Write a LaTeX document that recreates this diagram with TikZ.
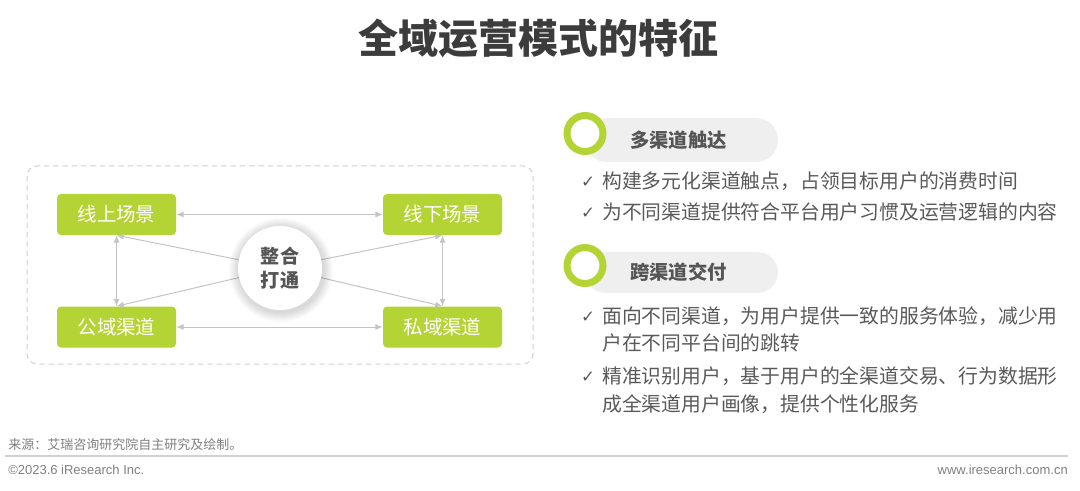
\documentclass[tikz,border=0pt]{standalone}
\usepackage{fontspec}
\setmainfont{Noto Sans CJK SC}
\newfontfamily\latinf{Liberation Sans}
\newfontfamily\symf{DejaVu Sans}
\usetikzlibrary{arrows.meta}
\definecolor{grn}{HTML}{B4D334}
\definecolor{txt}{HTML}{595959}
\definecolor{head}{HTML}{555555}
\definecolor{ttl}{HTML}{3C3C3C}
\definecolor{arr}{HTML}{C4C4C4}
\definecolor{pill}{HTML}{EFEFEF}
\definecolor{foot}{HTML}{7F7F7F}
\tikzset{
  gbox/.style={fill=grn, rounded corners=3pt, minimum width=89.25pt, minimum height=30.75pt, text=white, font=\fontsize{14.6pt}{16pt}\selectfont, inner sep=0pt},
  conn/.style={draw=arr, line width=0.75pt},
  tip/.style={-{Latex[length=5.5pt,width=4.5pt]}},
  tips/.style={{Latex[length=5.5pt,width=4.5pt]}-{Latex[length=5.5pt,width=4.5pt]}},
  bul/.style={anchor=west, inner sep=0pt, text=txt, font=\fontsize{14.85pt}{16pt}\selectfont},
  chk/.style={inner sep=0pt, text=txt, font=\symf\fontsize{12.5pt}{14pt}\selectfont},
  hd/.style={anchor=west, inner sep=0pt, text=head, font=\bfseries\fontsize{14.5pt}{16pt}\selectfont},
  ring/.style={draw=grn, line width=5.25pt, fill=white},
  pillbox/.style={fill=pill},
  ft/.style={inner sep=0pt, text=foot, font=\fontsize{9.75pt}{11pt}\selectfont}
}
\begin{document}
\begin{tikzpicture}[x=0.75pt,y=-0.75pt]
\useasboundingbox (0,0) rectangle (1080,491);
% title
\node[text=ttl, font=\bfseries\fontsize{30pt}{34pt}\selectfont, inner sep=0pt] (title) at (538,38) {全域运营模式的特征};
% left diagram frame
\draw[draw=arr!80, line width=0.75pt, dash pattern=on 4pt off 3pt, rounded corners=7.5pt] (27,166) rectangle (533,364);
% boxes
\node[gbox] (a) at (116.5,214.5) {线上场景};
\node[gbox] (b) at (442.5,214.5) {线下场景};
\node[gbox] (c) at (116.5,327) {公域渠道};
\node[gbox] (d) at (442.5,327) {私域渠道};
\coordinate (ctr) at (280,268);
% connectors
\draw[conn, tips] (a.east) -- (b.west);
\draw[conn, tips] (c.east) -- (d.west);
\draw[conn, tips] (a.south) -- (c.north);
\draw[conn, tips] (b.south) -- (d.north);
\draw[conn, tip] (ctr) -- (a.south);
\draw[conn, tip] (ctr) -- (b.south);
\draw[conn, tip] (ctr) -- (c.north);
\draw[conn, tip] (ctr) -- (d.north);
% shadow
\foreach \k in {1,...,10} {
  \fill[black, opacity=0.016] (281,270) circle[radius=42+\k];
}
\node[circle, fill=white, minimum size=63pt, inner sep=0pt, align=center, text=head,
  font=\bfseries\fontsize{14.3pt}{18pt}\selectfont] (m) at (ctr) {整合\\打通};
% right: section 1
\fill[pillbox, rounded corners=16.5pt] (585,118) rectangle (778,162);
\node[circle, ring, minimum size=27pt, inner sep=0pt] (r1) at (585,133.5) {};
\node[hd] (h1) at (630,140) {多渠道触达};
\node[chk] (k1) at (588,182) {✓};
\node[bul] (t1) at (602,181) {构建多元化渠道触点，占领目标用户的消费时间};
\node[chk] (k2) at (588,213) {✓};
\node[bul] (t2) at (602,212) {为不同渠道提供符合平台用户习惯及运营逻辑的内容};
% right: section 2
\fill[pillbox, rounded corners=15.4pt] (585,252) rectangle (778,293);
\node[circle, ring, minimum size=27pt, inner sep=0pt] (r2) at (585,265.5) {};
\node[hd] (h2) at (630,272) {跨渠道交付};
\node[chk] (k3) at (588,317) {✓};
\node[bul] (t3) at (602,316) {面向不同渠道，为用户提供一致的服务体验，减少用};
\node[bul] (t4) at (602,343) {户在不同平台间的跳转};
\node[chk] (k4) at (588,377) {✓};
\node[bul] (t5) at (602,376) {精准识别用户，基于用户的全渠道交易、行为数据形};
\node[bul] (t6) at (602,404) {成全渠道用户画像，提供个性化服务};
% footer
\node[ft, anchor=west] (src) at (8,445) {来源：艾瑞咨询研究院自主研究及绘制。};
\draw[draw=black!18, line width=1.5pt] (5,456) -- (1068,456);
\node[ft, anchor=west, font=\latinf\fontsize{9.75pt}{11pt}\selectfont] (cp) at (8,470) {©2023.6 iResearch Inc.};
\node[ft, anchor=east, font=\latinf\fontsize{9.75pt}{11pt}\selectfont] (www) at (1068,470) {www.iresearch.com.cn};
\end{tikzpicture}
\end{document}
